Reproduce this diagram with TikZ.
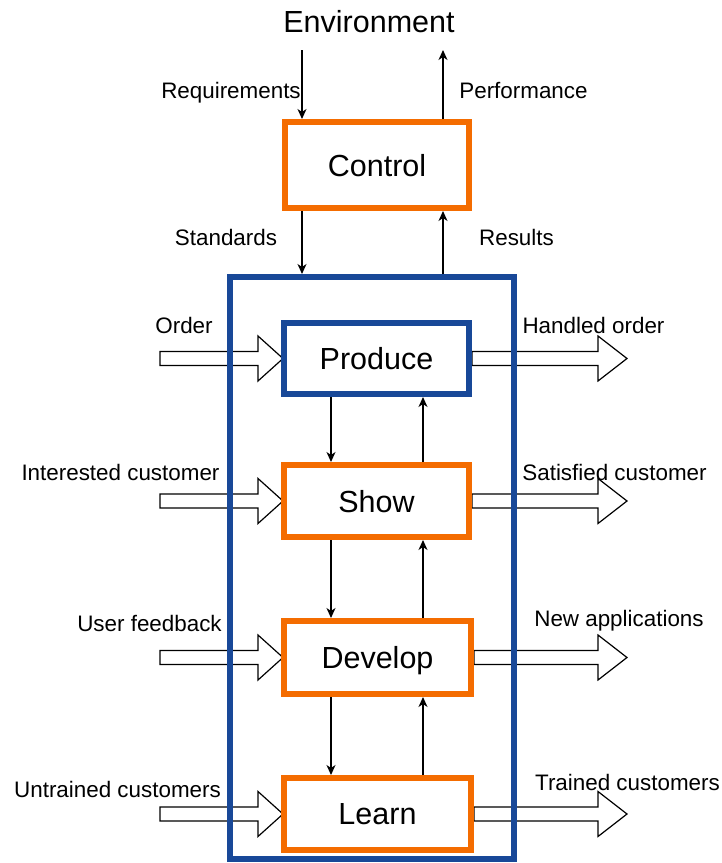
\documentclass[tikz,border=0pt]{standalone}
\usepackage{fontspec}
\setmainfont{Liberation Sans}
\usetikzlibrary{arrows.meta,calc,backgrounds}

\definecolor{procorange}{RGB}{244,108,0}
\definecolor{sysblue}{RGB}{24,72,152}

\tikzset{
  lbl/.style={font=\fontsize{22.4}{26}\selectfont, anchor=base, inner sep=0pt},
  title/.style={font=\fontsize{30.5}{34}\selectfont, anchor=base, inner sep=0pt},
  procbox/.style={draw=procorange, line width=6pt, fill=white, inner sep=0pt,
    font=\fontsize{30.5}{34}\selectfont, text depth=0pt},
  flow/.style={line width=1.2pt, -{Stealth[length=10pt,width=9pt,inset=3pt]}},
  blockarrow/.style={draw=black, line width=1.2pt, line join=miter}
}

% hollow block arrow from #1 to tip #2 (horizontal), head length #3
\newcommand\blockarrow[3]{%
  \draw[blockarrow] let \p1=(#1), \p2=(#2) in
    (\x1,\y1+7pt) -- (\x2-#3,\y1+7pt) -- (\x2-#3,\y1+22.5pt) -- (\x2,\y1)
    -- (\x2-#3,\y1-22.5pt) -- (\x2-#3,\y1-7pt) -- (\x1,\y1-7pt) -- cycle;}

\begin{document}
\begin{tikzpicture}[x=1pt,y=-1pt]
\useasboundingbox (0,0) rectangle (721,863);

% title
\node[title] (env) at (369,32) {Environment};

% process boxes
\node[procbox, minimum width=184, minimum height=86] (control) at (377,165) {Control};
\node[procbox, draw=sysblue, minimum width=185, minimum height=71] (produce) at (376.5,358.5) {Produce};
\node[procbox, minimum width=185, minimum height=72] (show) at (376.5,501) {Show};
\node[procbox, minimum width=187, minimum height=73] (develop) at (377.5,657.5) {Develop};
\node[procbox, minimum width=187, minimum height=72] (learn) at (377.5,814) {Learn};

% system boundary
\node[draw=sysblue, line width=6pt, minimum width=284, minimum height=582, inner sep=0pt] (sys) at (372,568) {};

% free ends of the block arrows
\coordinate (in1) at (160,358.5);  \coordinate (out1) at (627,358.5);
\coordinate (in2) at (160,501);    \coordinate (out2) at (627,501);
\coordinate (in3) at (160,657.5);  \coordinate (out3) at (627,657.5);
\coordinate (in4) at (160,814);    \coordinate (out4) at (627,814);

% block arrows, kept behind the boxes and the boundary
\begin{pgfonlayer}{background}
\blockarrow{in1}{$(produce.west)+(2,0)$}{25pt}
\blockarrow{in2}{$(show.west)+(2,0)$}{25pt}
\blockarrow{in3}{$(develop.west)+(2,0)$}{25pt}
\blockarrow{in4}{$(learn.west)+(2,0)$}{25pt}
\blockarrow{produce.east}{out1}{29pt}
\blockarrow{show.east}{out2}{29pt}
\blockarrow{develop.east}{out3}{29pt}
\blockarrow{learn.east}{out4}{29pt}
\end{pgfonlayer}

% vertical lanes
\coordinate (lanein) at (302,50);
\coordinate (laneout) at (443,50);
\coordinate (lanedn) at (331,0);
\coordinate (laneup) at (423,0);

\draw[flow] (lanein) -- (lanein |- control.north);
\draw[flow] (laneout |- control.north) -- (laneout);
\draw[flow] (lanein |- control.south) -- (lanein |- sys.north);
\draw[flow] (laneout |- sys.north) -- (laneout |- control.south);

\draw[flow] (lanedn |- produce.south) -- (lanedn |- show.north);
\draw[flow] (lanedn |- show.south) -- (lanedn |- develop.north);
\draw[flow] (lanedn |- develop.south) -- (lanedn |- learn.north);
\draw[flow] (laneup |- show.north) -- (laneup |- produce.south);
\draw[flow] (laneup |- develop.north) -- (laneup |- show.south);
\draw[flow] (laneup |- learn.north) -- (laneup |- develop.south);

% labels
\node[lbl] (lreq) at (231,98) {Requirements};
\node[lbl] (lperf) at (523.5,98) {Performance};
\node[lbl] (lstd) at (226,245.5) {Standards};
\node[lbl] (lres) at (516.5,245.5) {Results};
\node[lbl] (lord) at (184,333) {Order};
\node[lbl] (lhand) at (593.5,333) {Handled order};
\node[lbl] (lint) at (120.5,480) {Interested customer};
\node[lbl] (lsat) at (614.5,480) {Satisfied customer};
\node[lbl] (luser) at (149.5,631.5) {User feedback};
\node[lbl] (lnew) at (619,626.5) {New applications};
\node[lbl] (lunt) at (117.5,797) {Untrained customers};
\node[lbl] (ltr) at (627.5,790.5) {Trained customers};
\end{tikzpicture}
\end{document}
